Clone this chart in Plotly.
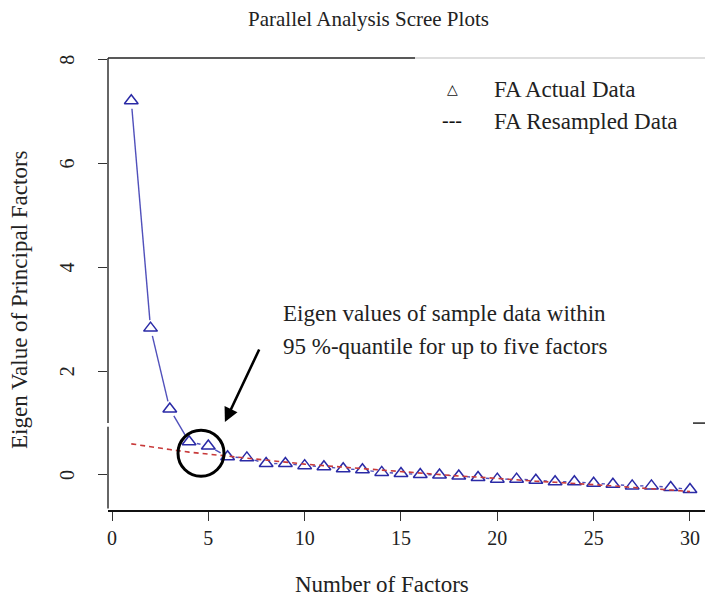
import plotly.graph_objects as go
import numpy as np

# ---------------- data ----------------
factors = list(range(1, 31))
actual = [7.21, 2.83, 1.27, 0.64, 0.56, 0.35, 0.33, 0.22, 0.22, 0.18,
          0.16, 0.12, 0.10, 0.05, 0.03, 0.01, 0.00, -0.02, -0.05, -0.08,
          -0.08, -0.10, -0.13, -0.13, -0.16, -0.18, -0.21, -0.21, -0.24, -0.28]
resampled = [0.60, 0.54, 0.49, 0.44, 0.40, 0.36, 0.32, 0.28, 0.25, 0.21,
             0.18, 0.15, 0.12, 0.09, 0.06, 0.04, 0.01, -0.02, -0.04, -0.07,
             -0.09, -0.12, -0.14, -0.16, -0.19, -0.21, -0.24, -0.26, -0.29, -0.32]
x_ticks = [0, 5, 10, 15, 20, 25, 30]
y_ticks = [0, 2, 4, 6, 8]
y_tick_labels = ["0", "2", "4", "6", "8"]

title_text = "Parallel Analysis Scree Plots"
x_title = "Number of Factors"
y_title = "Eigen Value of Principal Factors"
legend_labels = ["FA Actual Data", "FA Resampled Data"]
note_lines = ["Eigen values of sample data within", "95 %-quantile for up to five factors"]

# ---------------- geometry ----------------
W, H = 705, 600
PL, PT, PB = 108, 58, 511    # plot area edges in page pixels
L, T = PL, PT
B = H - PB
R = 0
PW, PH = W - L - R, H - T - B
XR = [-0.2076, 30.78]
YR = [-0.694, 8.035]
FONT = "Liberation Serif"

def px(xp):
    return (xp - PL) / PW

def py(yp):
    return (PB - yp) / PH

# type="b" style line segments with gaps around points (computed in pixel space)
def gapped(xs, ys, gap=8):
    xs = np.asarray(xs, float); ys = np.asarray(ys, float)
    sx = PW / (XR[1] - XR[0]); sy = PH / (YR[1] - YR[0])
    ox, oy = [], []
    for i in range(len(xs) - 1):
        dx = (xs[i + 1] - xs[i]) * sx
        dy = (ys[i + 1] - ys[i]) * sy
        d = np.hypot(dx, dy)
        if d <= 2 * gap:
            continue
        ux, uy = dx / d, dy / d
        ox += [xs[i] + gap * ux / sx, xs[i + 1] - gap * ux / sx, None]
        oy += [ys[i] + gap * uy / sy, ys[i + 1] - gap * uy / sy, None]
    return ox, oy

gx, gy = gapped(factors, actual)

fig = go.Figure()
fig.add_trace(go.Scatter(x=gx, y=gy, mode="lines",
                         line=dict(color="#5050bb", width=1.4),
                         showlegend=False, hoverinfo="skip"))
fig.add_trace(go.Scatter(x=factors, y=actual, mode="markers",
                         marker=dict(symbol="triangle-up-open", size=12,
                                     color="#2a2aa6", line=dict(width=1.5, color="#2a2aa6")),
                         showlegend=False))
fig.add_trace(go.Scatter(x=factors, y=resampled, mode="lines",
                         line=dict(color="#c83a3a", width=1.6, dash="5px,4px"),
                         showlegend=False))

axis_font = dict(family=FONT, size=20, color="#222")
fig.update_layout(
    width=W, height=H,
    margin=dict(l=L, r=R, t=T, b=B, pad=0),
    plot_bgcolor="white", paper_bgcolor="white",
    showlegend=False,
    xaxis=dict(range=XR, tickvals=x_ticks, ticks="outside", ticklen=9, tickwidth=1.3,
               tickcolor="#333", showgrid=False, zeroline=False, showline=False,
               tickfont=axis_font, ticklabelstandoff=0),
    yaxis=dict(range=YR, tickvals=y_ticks, ticks="outside", ticklen=9, tickwidth=1.3,
               tickcolor="#333", showgrid=False, zeroline=False, showline=False,
               showticklabels=False),
)

shapes = []
line_dark = dict(color="#333", width=1.5)
# left axis line with small break near 1
shapes.append(dict(type="line", xref="paper", yref="y", x0=0, x1=0, y0=YR[0] + 0.05, y1=0.93, line=line_dark))
shapes.append(dict(type="line", xref="paper", yref="y", x0=0, x1=0, y0=1.0, y1=YR[1], line=line_dark))
# bottom line
shapes.append(dict(type="line", xref="paper", yref="paper", x0=0, x1=1, y0=0, y1=0, line=dict(color="#111", width=1.8)))
# top border: dark then light
shapes.append(dict(type="line", xref="paper", yref="paper", x0=0, x1=px(415), y0=1, y1=1, line=dict(color="#222", width=1.5)))
shapes.append(dict(type="line", xref="paper", yref="paper", x0=px(415), x1=1, y0=1, y1=1, line=dict(color="#bdbdbd", width=1.2)))
# small mark on the right side
shapes.append(dict(type="line", xref="paper", yref="y", x0=px(693), x1=1, y0=1.0, y1=1.0, line=dict(color="#222", width=1.5)))
# circle highlighting the crossing
shapes.append(dict(type="circle", xref="x", yref="y", xsizemode="pixel", ysizemode="pixel",
                   xanchor=4.62, yanchor=0.42, x0=-23, x1=23, y0=-23, y1=23,
                   line=dict(color="black", width=3)))
fig.update_layout(shapes=shapes)

ann = []
# rotated y tick labels (R style, parallel to the axis)
for v, t in zip(y_ticks, y_tick_labels):
    ann.append(dict(text=t, xref="paper", yref="y", x=px(67), y=v,
                    showarrow=False, xanchor="center", yanchor="middle", textangle=-90,
                    font=axis_font))
ann.append(dict(text=title_text, xref="paper", yref="paper", x=px(368), y=py(19),
                showarrow=False, xanchor="center", yanchor="middle",
                font=dict(family=FONT, size=21, color="#222")))
ann.append(dict(text=x_title, xref="paper", yref="paper", x=px(382), y=py(584),
                showarrow=False, xanchor="center", yanchor="middle",
                font=dict(family=FONT, size=23, color="#222")))
ann.append(dict(text=y_title, xref="paper", yref="paper", x=px(19), y=py(300),
                showarrow=False, xanchor="center", yanchor="middle", textangle=-90,
                font=dict(family=FONT, size=23, color="#222")))
# legend
ann.append(dict(text="△", xref="paper", yref="paper", x=px(452), y=py(89),
                showarrow=False, xanchor="center", yanchor="middle",
                font=dict(family="DejaVu Sans", size=14, color="#111")))
ann.append(dict(text="---", xref="paper", yref="paper", x=px(452), y=py(120),
                showarrow=False, xanchor="center", yanchor="middle",
                font=dict(family=FONT, size=20, color="#111")))
for lab, yy in zip(legend_labels, [89, 121]):
    ann.append(dict(text=lab, xref="paper", yref="paper", x=px(492), y=py(yy),
                    showarrow=False, xanchor="left", yanchor="middle",
                    font=dict(family=FONT, size=23, color="#222")))
for line_txt, yy in zip(note_lines, [313, 346]):
    ann.append(dict(text=line_txt, xref="paper", yref="paper", x=px(281), y=py(yy),
                    showarrow=False, xanchor="left", yanchor="middle",
                    font=dict(family=FONT, size=23, color="#222")))
# arrow
ann.append(dict(text="", x=5.86, y=1.02, xref="x", yref="y", ax=35, ay=-74,
                showarrow=True, arrowhead=2, arrowsize=1.1, arrowwidth=2.6, arrowcolor="black"))
fig.update_layout(annotations=ann)

fig.write_html("out.html",
               config={"displayModeBar": False},
               post_script="document.body.style.margin='0';document.body.style.overflow='hidden';")
